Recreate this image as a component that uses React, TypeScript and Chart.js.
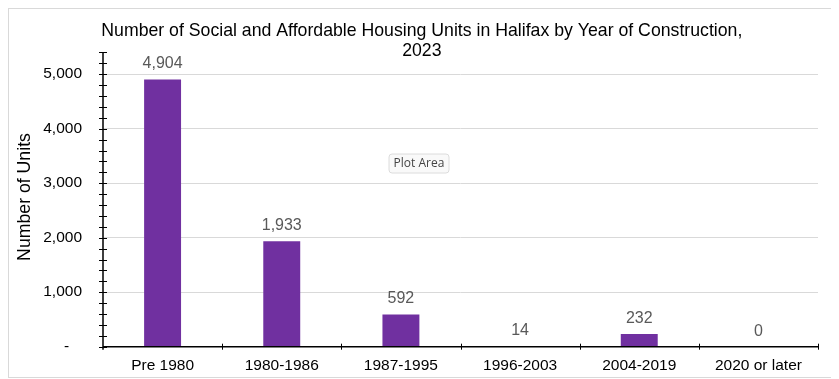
import React, { useEffect, useRef } from 'react';
import { Chart, registerables } from 'chart.js';

Chart.register(...registerables);

const categories = ['Pre 1980', '1980-1986', '1987-1995', '1996-2003', '2004-2019', '2020 or later'];
const units = [4904, 1933, 592, 14, 232, 0];
const titleLines = ['Number of Social and Affordable Housing Units in Halifax by Year of Construction,', '2023'];
const yAxisTitle = 'Number of Units';
const yMax = 5400;
const yMinorStep = 200;
const yMajorStep = 1000;
const hoverNote = 'Plot Area';

const FONT = '"Liberation Sans", Arial, sans-serif';
const BAR_COLOR = '#7030A0';

const fmt = (v: number) => v.toLocaleString('en-US');

const decorPlugin = {
  id: 'decor',
  afterDatasetsDraw(chart: any) {
    const { ctx } = chart;
    const meta = chart.getDatasetMeta(0);
    ctx.save();
    ctx.font = `16px ${FONT}`;
    ctx.fillStyle = '#595959';
    ctx.textAlign = 'center';
    ctx.textBaseline = 'alphabetic';
    meta.data.forEach((bar: any, i: number) => {
      ctx.fillText(fmt(units[i]), bar.x, bar.y - 11);
    });
    ctx.restore();
  },
  afterDraw(chart: any) {
    const { ctx, scales } = chart;
    const x = scales.x;
    const y = scales.y;
    ctx.save();
    // axis lines
    ctx.strokeStyle = '#000';
    ctx.lineWidth = 1.5;
    ctx.beginPath();
    ctx.moveTo(x.left, y.top);
    ctx.lineTo(x.left, y.bottom + 3);
    ctx.moveTo(x.left, y.bottom);
    ctx.lineTo(x.right, y.bottom);
    ctx.stroke();
    // y ticks (cross)
    ctx.lineWidth = 1;
    ctx.beginPath();
    for (let v = 0; v <= yMax; v += yMinorStep) {
      const py = Math.round(y.getPixelForValue(v)) + 0.5;
      ctx.moveTo(x.left - 4, py);
      ctx.lineTo(x.left + 4, py);
    }
    // x ticks at category boundaries
    for (let i = 1; i <= categories.length; i++) {
      const px = Math.round(x.getPixelForValue(i - 0.5)) + 0.5;
      ctx.moveTo(px, y.bottom - 3);
      ctx.lineTo(px, y.bottom + 3);
    }
    ctx.stroke();

    // title
    ctx.fillStyle = '#000';
    ctx.font = `17.7px ${FONT}`;
    ctx.textAlign = 'center';
    ctx.textBaseline = 'middle';
    ctx.fillText(titleLines[0], 412.8, 22.5);
    ctx.fillText(titleLines[1], 412.8, 42);

    // y axis title
    ctx.save();
    ctx.translate(16, 188);
    ctx.rotate(-Math.PI / 2);
    ctx.font = `17.7px ${FONT}`;
    ctx.fillText(yAxisTitle, 0, 0);
    ctx.restore();

    // hover note box
    const bx = 380, by = 145, bw = 60, bh = 19;
    ctx.beginPath();
    const r = 3;
    ctx.moveTo(bx + r, by);
    ctx.lineTo(bx + bw - r, by);
    ctx.arcTo(bx + bw, by, bx + bw, by + r, r);
    ctx.lineTo(bx + bw, by + bh - r);
    ctx.arcTo(bx + bw, by + bh, bx + bw - r, by + bh, r);
    ctx.lineTo(bx + r, by + bh);
    ctx.arcTo(bx, by + bh, bx, by + bh - r, r);
    ctx.lineTo(bx, by + r);
    ctx.arcTo(bx, by, bx + r, by, r);
    ctx.closePath();
    ctx.fillStyle = '#f9f9f9';
    ctx.fill();
    ctx.strokeStyle = '#dcdcdc';
    ctx.lineWidth = 1;
    ctx.stroke();
    ctx.fillStyle = '#444';
    ctx.font = `12px "Open Sans", "Noto Sans", sans-serif`;
    ctx.textAlign = 'center';
    ctx.textBaseline = 'middle';
    ctx.fillText(hoverNote, bx + bw / 2, by + bh / 2 + 0.5);
    ctx.restore();
  },
};

export default function App() {
  const ref = useRef<HTMLCanvasElement>(null);
  useEffect(() => {
    const chart = new Chart(ref.current as HTMLCanvasElement, {
      type: 'bar',
      data: {
        labels: categories,
        datasets: [
          {
            data: units,
            backgroundColor: BAR_COLOR,
            barPercentage: 0.31,
            categoryPercentage: 1,
          },
        ],
      },
      options: {
        responsive: false,
        animation: false,
        devicePixelRatio: 1,
        layout: { padding: { top: 43.4, right: 13, bottom: 0, left: 0 } },
        plugins: {
          legend: { display: false },
          title: { display: false },
          tooltip: { enabled: false },
        },
        scales: {
          x: {
            offset: true,
            grid: { display: false, drawTicks: false },
            border: { display: false },
            ticks: {
              color: '#000',
              font: { family: FONT, size: 15.5 },
              padding: 10,
              maxRotation: 0,
              autoSkip: false,
            },
            afterFit: (s: any) => {
              s.height = 29.7;
            },
          },
          y: {
            min: 0,
            max: yMax,
            grid: {
              drawTicks: false,
              color: (c: any) =>
                c.tick && c.tick.value > 0 && c.tick.value % yMajorStep === 0 ? '#d9d9d9' : 'rgba(0,0,0,0)',
              lineWidth: 1,
            },
            border: { display: false },
            ticks: {
              stepSize: yMinorStep,
              autoSkip: false,
              color: '#000',
              font: { family: FONT, size: 15.5 },
              padding: 21,
              callback: (v: any) => {
                const n = Number(v);
                if (n % yMajorStep !== 0) return '';
                return n === 0 ? '-   ' : fmt(n);
              },
            },
            afterFit: (s: any) => {
              s.width = 94;
            },
          },
        },
      },
      plugins: [decorPlugin],
    });
    return () => chart.destroy();
  }, []);
  return (
    <div
      style={{
        width: 824,
        height: 370,
        border: '1px solid #d9d9d9',
        boxSizing: 'border-box',
        background: '#fff',
      }}
    >
      <canvas ref={ref} width={822} height={368} style={{ display: 'block', width: 822, height: 368 }} />
    </div>
  );
}
